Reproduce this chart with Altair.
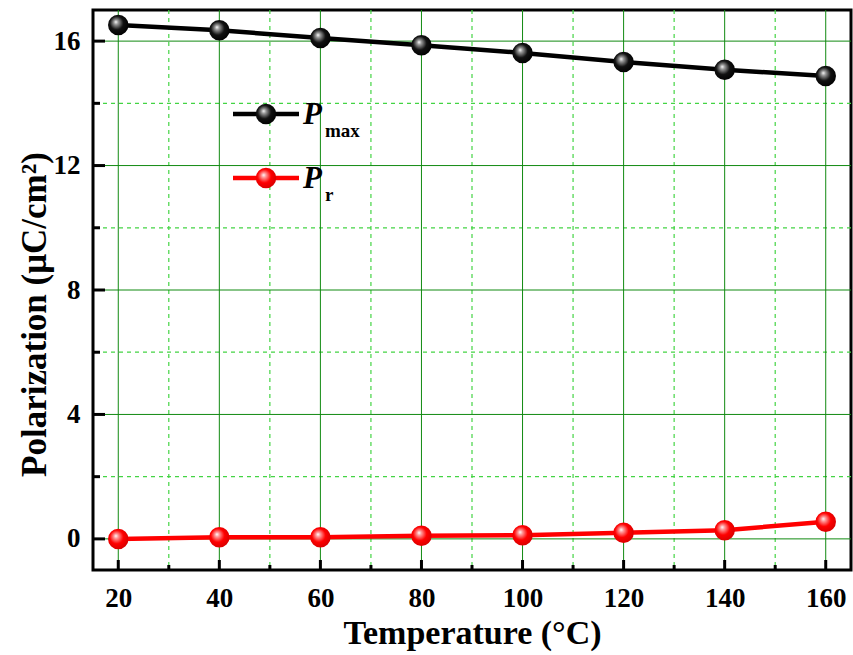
import altair as alt
import pandas as pd

# ---- data ----
temperature = [20, 40, 60, 80, 100, 120, 140, 160]
p_max = [16.52, 16.35, 16.10, 15.87, 15.62, 15.33, 15.08, 14.88]
p_r = [0.0, 0.05, 0.05, 0.10, 0.12, 0.20, 0.28, 0.55]

x_major = [20, 40, 60, 80, 100, 120, 140, 160]
x_minor = [30, 50, 70, 90, 110, 130, 150]
y_major = [0, 4, 8, 12, 16]
y_minor = [2, 6, 10, 14]

W, H = 758, 560
FONT = "'Times New Roman', 'Liberation Serif', serif"

xs = alt.Scale(domain=[15, 165], nice=False, zero=False)
ys = alt.Scale(domain=[-1, 17], nice=False, zero=False)

x_axis = alt.Axis(values=x_major, grid=False, domain=False, ticks=False,
                  labelFont=FONT, labelFontWeight="bold", labelFontSize=27, labelColor="black",
                  labelPadding=15, title="Temperature (\u00b0C)", titleFont=FONT,
                  titleFontWeight="bold", titleFontSize=34, titleColor="black", titlePadding=5)
y_axis = alt.Axis(values=y_major, grid=False, domain=False, ticks=False,
                  labelFont=FONT, labelFontWeight="bold", labelFontSize=27, labelColor="black",
                  labelPadding=13, title="Polarization (\u03bcC/cm\u00b2)", titleFont=FONT,
                  titleFontWeight="bold", titleFontSize=35, titleColor="black", titlePadding=1,
                  titleY=304)

def X(f):
    return alt.X(f, scale=xs, axis=x_axis)

def Y(f):
    return alt.Y(f, scale=ys, axis=y_axis)

df = pd.DataFrame({"T": temperature, "Pmax": p_max, "Pr": p_r})

def sphere(base, hi, dark):
    return alt.RadialGradient(
        gradient="radial",
        stops=[alt.GradientStop(color="#ffffff", offset=0),
               alt.GradientStop(color=hi, offset=0.18),
               alt.GradientStop(color=base, offset=0.55),
               alt.GradientStop(color=dark, offset=1)],
        x1=0.38, y1=0.35, r1=0, x2=0.45, y2=0.45, r2=0.6)

black_fill = sphere("#111111", "#9a9a9a", "#000000")
red_fill = sphere("#ff0000", "#ff9a9a", "#d40000")

GRID_MAJOR = "#118a11"
GRID_MINOR = "#44d444"
MS = 420

gx_major = alt.Chart(pd.DataFrame({"x": x_major})).mark_rule(color=GRID_MAJOR, strokeWidth=1).encode(x=X("x:Q"))
gx_minor = alt.Chart(pd.DataFrame({"x": x_minor})).mark_rule(color=GRID_MINOR, strokeWidth=1.2, strokeDash=[4, 4]).encode(x=X("x:Q"))
gy_major = alt.Chart(pd.DataFrame({"y": y_major})).mark_rule(color=GRID_MAJOR, strokeWidth=1).encode(y=Y("y:Q"))
gy_minor = alt.Chart(pd.DataFrame({"y": y_minor})).mark_rule(color=GRID_MINOR, strokeWidth=1.2, strokeDash=[4, 4]).encode(y=Y("y:Q"))

tx_major = alt.Chart(pd.DataFrame({"x": x_major})).mark_rule(color="black", strokeWidth=3).encode(
    x=X("x:Q"), y=alt.value(H), y2=alt.value(H - 10))
tx_minor = alt.Chart(pd.DataFrame({"x": x_minor})).mark_rule(color="black", strokeWidth=3).encode(
    x=X("x:Q"), y=alt.value(H), y2=alt.value(H - 5))
ty_major = alt.Chart(pd.DataFrame({"y": y_major})).mark_rule(color="black", strokeWidth=3).encode(
    y=Y("y:Q"), x=alt.value(0), x2=alt.value(12))
ty_minor = alt.Chart(pd.DataFrame({"y": y_minor})).mark_rule(color="black", strokeWidth=3).encode(
    y=Y("y:Q"), x=alt.value(0), x2=alt.value(7))

line_max = alt.Chart(df).mark_line(color="black", strokeWidth=4.5).encode(x=X("T:Q"), y=Y("Pmax:Q"))
pts_max = alt.Chart(df).mark_point(filled=True, fill=black_fill, opacity=1, size=MS, strokeWidth=0,
                                   shape="circle").encode(x=X("T:Q"), y=Y("Pmax:Q"))
line_r = alt.Chart(df).mark_line(color="#ff0000", strokeWidth=4.5).encode(x=X("T:Q"), y=Y("Pr:Q"))
pts_r = alt.Chart(df).mark_point(filled=True, fill=red_fill, opacity=1, size=MS, strokeWidth=0,
                                 shape="circle").encode(x=X("T:Q"), y=Y("Pr:Q"))

# ---- legend (drawn in pixel space) ----
legend_rows = [("black", black_fill, "max", 104), ("#ff0000", red_fill, "r", 168)]
legend_layers = []
for col, fill, sub, yy in legend_rows:
    legend_layers.append(alt.Chart(df.head(1)).mark_rule(color=col, strokeWidth=4.5).encode(
        x=alt.value(140), x2=alt.value(206), y=alt.value(yy)))
    legend_layers.append(alt.Chart(df.head(1)).mark_point(filled=True, fill=fill, opacity=1, size=MS,
                                                          strokeWidth=0, shape="circle").encode(
        x=alt.value(173), y=alt.value(yy)))
    legend_layers.append(alt.Chart(df.head(1)).mark_text(text="P", font=FONT, fontWeight="bold", fontStyle="italic",
                                                         fontSize=31, align="left", baseline="alphabetic",
                                                         color="black").encode(
        x=alt.value(210), y=alt.value(yy + 10)))
    legend_layers.append(alt.Chart(df.head(1)).mark_text(text=sub, font=FONT, fontWeight="bold",
                                                         fontSize=19, align="left", baseline="alphabetic",
                                                         color="black").encode(
        x=alt.value(232), y=alt.value(yy + 23)))

chart = alt.layer(
    gx_minor, gy_minor, gx_major, gy_major,
    tx_major, tx_minor, ty_major, ty_minor,
    line_max, line_r, pts_max, pts_r, *legend_layers
).properties(
    width=W, height=H,
    autosize=alt.AutoSizeParams(type="none"),
    padding={"left": 93, "top": 10, "right": 2, "bottom": 85},
    background="white",
).configure_view(stroke="black", strokeWidth=3)

chart.save("out.html", embed_options={"renderer": "svg", "actions": False})
